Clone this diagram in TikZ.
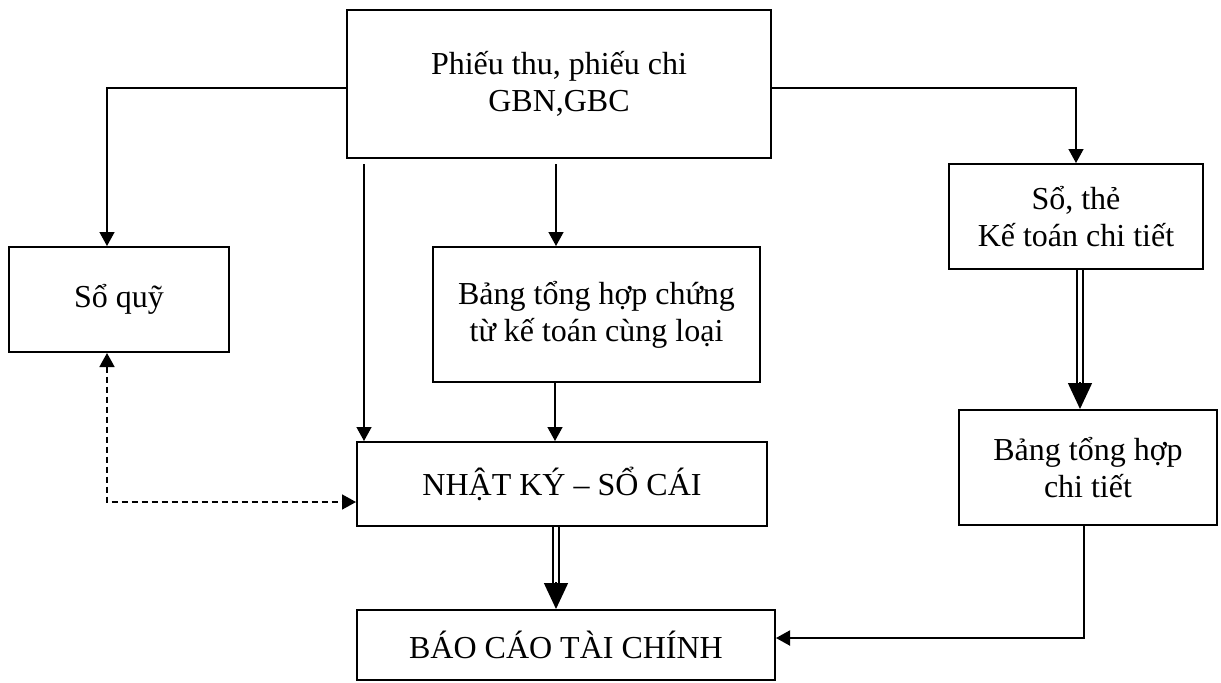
\documentclass[tikz,border=0pt]{standalone}
\usepackage{fontspec}
\setmainfont{Liberation Serif}
\usetikzlibrary{arrows.meta,calc}
\begin{document}
\begin{tikzpicture}[x=0.5pt,y=-0.5pt,
  box/.style={draw, line width=1pt, align=center, inner sep=0pt, font=\fontsize{16}{18.5}\selectfont},
  conn/.style={line width=0.7pt, -{Triangle[width=7.5pt,length=7pt]}},
  dshaft/.style={double, line width=0.9pt, double distance=2pt},
  bigtip/.style={line width=0.7pt, -{Triangle[width=12pt,length=13pt]}},
  dconn/.style={line width=0.85pt, dash pattern=on 3pt off 2pt, {Triangle[width=7.5pt,length=7pt]}-{Triangle[width=7.5pt,length=7pt]}}]
\useasboundingbox (0,0) rectangle (1221,682);
\node[box, minimum width=212pt, minimum height=74pt] (top) at (559,84) {Phiếu thu, phiếu chi\\GBN,GBC};
\node[box, minimum width=110pt, minimum height=52.5pt] (soquy) at (119,299.5) {Sổ quỹ};
\node[box, minimum width=163.5pt, minimum height=67.5pt] (bth) at (596.5,314.5) {Bảng tổng hợp chứng\\từ kế toán cùng loại};
\node[box, minimum width=127pt, minimum height=52.5pt] (sothe) at (1076,216.5) {Sổ, thẻ\\Kế toán chi tiết};
\node[box, minimum width=205pt, minimum height=42pt] (nk) at (562,484) {NHẬT KÝ – SỔ CÁI};
\node[box, minimum width=129pt, minimum height=57.5pt] (bthct) at (1088,467.5) {Bảng tổng hợp\\chi tiết};
\node[box, minimum width=209pt, minimum height=35pt] (bc) at (566,645) {BÁO CÁO TÀI CHÍNH};

\coordinate (tl) at ($(top.west)+(0,4)$);
\draw[conn] (tl) -| ($(soquy.north)+(-12,0)$);
\coordinate (tr) at ($(top.east)+(0,4)$);
\draw[conn] (tr) -| (sothe.north);
\coordinate (t3) at ($(top.south west)+(18,5)$);
\draw[conn] (t3) -- (t3 |- nk.north);
\coordinate (t4) at ($(top.south)+(-3,5)$);
\draw[conn] (t4) -- (t4 |- bth.north);
\coordinate (b5) at ($(bth.south west)+(123,0)$);
\draw[conn] (b5) -- (b5 |- nk.north);

\coordinate (n1) at ($(nk.south)+(-6,0)$);
\coordinate (b1) at (n1 |- bc.north);
\coordinate (b1t) at ($(b1)+(0,-27)$);
\draw[dshaft] (n1) -- ($(b1)+(0,-25)$);
\draw[bigtip] (b1t) -- (b1);

\coordinate (s1) at ($(sothe.south)+(4,0)$);
\coordinate (s2) at (s1 |- bthct.north);
\coordinate (s2t) at ($(s2)+(0,-27)$);
\draw[dshaft] (s1) -- ($(s2)+(0,-25)$);
\draw[bigtip] (s2t) -- (s2);

\coordinate (r1) at ($(bthct.south)+(-4,0)$);
\coordinate (r2) at ($(bc.east)+(0,-7)$);
\draw[conn, line width=1pt] (r1) |- (r2);

\coordinate (q1) at ($(soquy.south)+(-12,0)$);
\coordinate (q2) at ($(nk.west)+(0,18)$);
\draw[dconn] (q1) |- (q2);
\end{tikzpicture}
\end{document}
